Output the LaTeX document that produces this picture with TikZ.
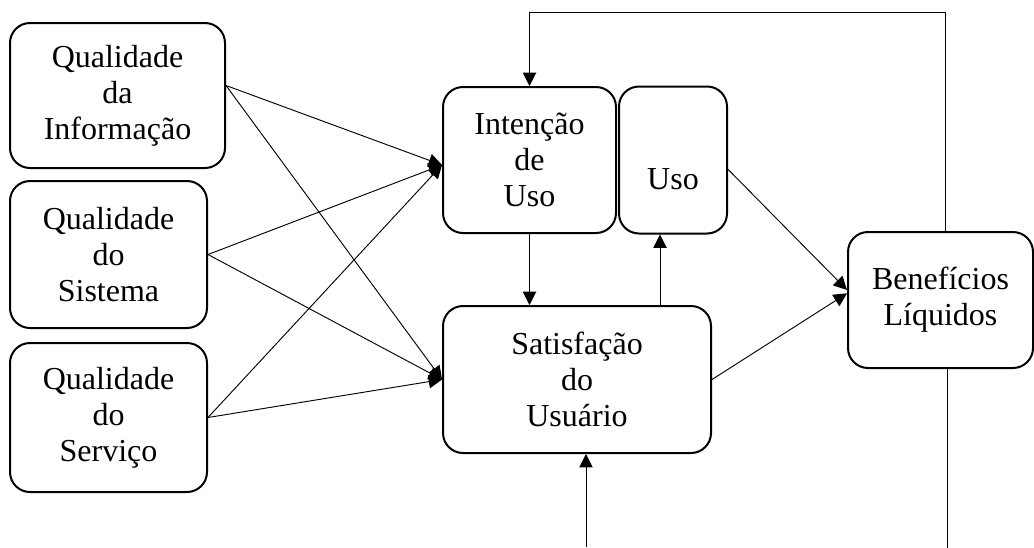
\documentclass[tikz,border=0pt]{standalone}
\usepackage{fontspec}
\setmainfont{Liberation Serif}
\usepackage{tikz}
\usetikzlibrary{arrows.meta, positioning}

\begin{document}
\begin{tikzpicture}[x=0.75pt, y=-0.75pt,
    box/.style={rounded corners=15pt, draw=black, line width=1.5pt, fill=white,
                align=center, inner sep=4pt,
                font=\fontsize{24}{27}\selectfont},
    arrow/.style={-{Triangle[length=10pt, width=10pt]}, line width=0.7pt}]
    \useasboundingbox (0,0) rectangle (1034,547);
    % source constructs
    \node[box, minimum width=161.25pt, minimum height=108.75pt] (qinfo) at (117.5,95.5)
        {Qualidade\\ da\\ Informação};
    \node[box, minimum width=147.75pt, minimum height=110.25pt] (qsis) at (108.5,254.5)
        {Qualidade\\ do\\ Sistema};
    \node[box, minimum width=147.75pt, minimum height=111.75pt] (qserv) at (108.5,417.5)
        {Qualidade\\ do\\ Serviço};
    % use / satisfaction
    \node[box, minimum width=129.75pt, minimum height=109.5pt] (intencao) at (529.5,160)
        {Intenção\\ de\\ Uso};
    \node[box, minimum width=81pt, minimum height=110.25pt, text height=45pt,
          right=0.75pt of intencao] (uso) {Uso};
    \node[box, minimum width=201pt, minimum height=110.25pt] (satisf) at (577,379.5)
        {Satisfação\\ do\\ Usuário};
    \node[box, minimum width=138.75pt, minimum height=102pt] (benef) at (940.5,300)
        {Benefícios\\ Líquidos};
    \coordinate (fbin) at (586,547);

    \draw[arrow] ([yshift=7.5pt]qinfo.east) -- ([yshift=-3.75pt]intencao.west);
    \draw[arrow] ([yshift=7.5pt]qinfo.east) -- (satisf.west);
    \draw[arrow] (qsis.east) -- ([yshift=-3.75pt]intencao.west);
    \draw[arrow] (qsis.east) -- (satisf.west);
    \draw[arrow] (qserv.east) -- ([yshift=-3.75pt]intencao.west);
    \draw[arrow] (qserv.east) -- (satisf.west);
    \draw[arrow] (intencao.south) -- (intencao.south |- satisf.north);
    \draw[arrow] ([xshift=-9.75pt]uso.south |- satisf.north) -- ([xshift=-9.75pt]uso.south);
    \draw[arrow] ([yshift=-7pt]uso.east) -- ([yshift=7.5pt]benef.west);
    \draw[arrow] (satisf.east) -- ([yshift=5pt]benef.west);
    % feedback loops
    \draw[arrow] ([xshift=4pt]benef.north) -- ++(0,-219) -| (intencao.north);
    \draw[line width=0.7pt] ([xshift=5.5pt]benef.south) -- ++(0,179);
    \draw[arrow] (fbin) -- (fbin |- satisf.south);
\end{tikzpicture}
\end{document}
